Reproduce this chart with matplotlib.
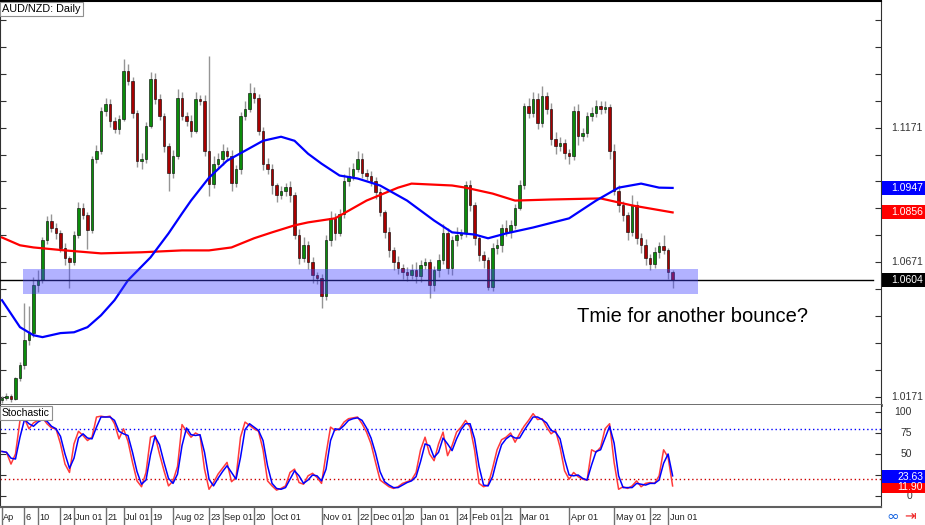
import matplotlib
matplotlib.use('Agg')
import matplotlib.pyplot as plt
import matplotlib.transforms as mtransforms
from matplotlib.patches import Rectangle
import numpy as np

# ---------------- data ----------------
first_open = 1.0160
closes = [
    1.0167, 1.0175, 1.0164, 1.0241, 1.0289, 1.0382, 1.0408, 1.0585, 1.0604, 1.0752,
    1.0826, 1.0797, 1.0778, 1.0723, 1.0686, 1.0671, 1.0771, 1.0871, 1.0845, 1.0789,
    1.1056, 1.1085, 1.1233, 1.1259, 1.1197, 1.1167, 1.1204, 1.1382, 1.1345, 1.1226,
    1.1048, 1.1056, 1.1178, 1.1352, 1.1278, 1.1215, 1.1104, 1.1004, 1.1067, 1.1282,
    1.1215, 1.1197, 1.1160, 1.1278, 1.1271, 1.1085, 1.0963, 1.1037, 1.1056, 1.1085,
    1.1067, 1.0967, 1.1019, 1.1215, 1.1241, 1.1300, 1.1282, 1.1160, 1.1037, 1.1019,
    1.0956, 1.0919, 1.0937, 1.0952, 1.0919, 1.0771, 1.0686, 1.0734, 1.0671, 1.0623,
    1.0612, 1.0545, 1.0752, 1.0837, 1.0778, 1.0852, 1.0974, 1.0993, 1.1019, 1.1056,
    1.1004, 1.0993, 1.0974, 1.0930, 1.0856, 1.0782, 1.0715, 1.0671, 1.0649, 1.0634,
    1.0623, 1.0641, 1.0619, 1.0660, 1.0671, 1.0585, 1.0641, 1.0678, 1.0778, 1.0649,
    1.0752, 1.0771, 1.0778, 1.0956, 1.0882, 1.0760, 1.0697, 1.0678, 1.0578, 1.0723,
    1.0734, 1.0797, 1.0782, 1.0808, 1.0874, 1.0956, 1.1252, 1.1226, 1.1278, 1.1189,
    1.1289, 1.1241, 1.1130, 1.1104, 1.1115, 1.1078, 1.1067, 1.1233, 1.1141, 1.1152,
    1.1215, 1.1226, 1.1252, 1.1241, 1.1248, 1.1085, 1.0937, 1.0882, 1.0845, 1.0782,
    1.0882, 1.0760, 1.0734, 1.0686, 1.0663, 1.0708, 1.0730, 1.0715, 1.0634, 1.0604]
upper_wick_pips = [
    8, 10, 6, 5, 12, 137, 100, 30, 40, 12,
    15, 25, 18, 12, 20, 10, 15, 25, 20, 12,
    10, 20, 15, 22, 18, 12, 15, 44, 25, 15,
    10, 20, 15, 25, 20, 18, 12, 10, 20, 33,
    22, 15, 20, 25, 15, 20, 352, 30, 20, 25,
    15, 20, 12, 15, 30, 37, 20, 15, 12, 20,
    15, 10, 18, 15, 20, 12, 25, 30, 15, 20,
    12, 15, 20, 25, 18, 15, 25, 30, 20, 29,
    20, 15, 18, 12, 15, 10, 20, 12, 25, 15,
    18, 25, 30, 20, 15, 12, 15, 22, 35, 20,
    15, 30, 18, 15, 20, 12, 10, 15, 12, 18,
    25, 15, 30, 20, 15, 20, 12, 30, 25, 20,
    37, 15, 20, 25, 20, 15, 12, 20, 25, 18,
    15, 20, 22, 18, 20, 12, 25, 20, 15, 12,
    37, 15, 20, 25, 15, 20, 15, 41, 10, 8]
lower_wick_pips = [
    10, 8, 12, 6, 10, 15, 20, 15, 25, 10,
    12, 15, 20, 15, 25, 97, 12, 10, 15, 70,
    10, 15, 12, 18, 25, 15, 20, 10, 15, 20,
    25, 30, 15, 10, 20, 15, 25, 67, 20, 12,
    15, 20, 25, 10, 15, 20, 45, 15, 20, 25,
    20, 30, 15, 20, 15, 12, 20, 15, 25, 20,
    30, 25, 15, 20, 25, 15, 20, 15, 25, 30,
    20, 45, 15, 20, 25, 10, 15, 20, 15, 12,
    20, 15, 20, 25, 15, 20, 25, 30, 20, 25,
    20, 15, 25, 20, 15, 48, 20, 25, 15, 20,
    25, 20, 15, 12, 20, 25, 20, 30, 10, 15,
    20, 25, 15, 20, 15, 10, 12, 20, 15, 25,
    15, 20, 25, 30, 20, 25, 30, 15, 35, 20,
    15, 20, 15, 20, 15, 29, 15, 25, 20, 30,
    15, 20, 30, 25, 20, 15, 20, 15, 25, 30]

ma_blue_bars = [0, 4, 7, 9, 13, 16, 19, 22, 25, 28, 33, 37, 40, 42, 46, 50, 54, 58, 62, 65,
                68, 71, 75, 79, 84, 90, 96, 100, 105, 108, 112, 118, 126, 132, 137, 142, 146, 149]
ma_blue_values = [1.0530, 1.0430, 1.0400, 1.0393, 1.0408, 1.0411, 1.0430, 1.0474, 1.0530, 1.0604,
                  1.0689, 1.0778, 1.0852, 1.0900, 1.0985, 1.1048, 1.1085, 1.1122, 1.1137, 1.1122,
                  1.1074, 1.1037, 1.0993, 1.0982, 1.0956, 1.0900, 1.0826, 1.0782, 1.0774, 1.0760,
                  1.0778, 1.0800, 1.0834, 1.0900, 1.0948, 1.0963, 1.0948, 1.0947]
ma_red_bars = [0, 4, 7, 14, 22, 31, 40, 46, 51, 56, 60, 65, 68, 74, 81, 88, 91, 100, 103, 109,
               114, 122, 133, 140, 149]
ma_red_values = [1.0763, 1.0734, 1.0726, 1.0715, 1.0704, 1.0708, 1.0715, 1.0715, 1.0726, 1.0760,
                 1.0782, 1.0808, 1.0819, 1.0834, 1.0900, 1.0948, 1.0963, 1.0956, 1.0948, 1.0926,
                 1.0900, 1.0904, 1.0908, 1.0882, 1.0856]

stoch_main = [
    53, 52, 38, 50, 90, 92, 80, 87, 90, 93,
    86, 81, 80, 62, 38, 28, 62, 77, 72, 66,
    70, 94, 95, 94, 95, 86, 68, 80, 65, 40,
    18, 11, 28, 70, 72, 50, 30, 12, 18, 35,
    85, 77, 70, 75, 72, 32, 8, 16, 26, 33,
    40, 17, 22, 70, 88, 84, 80, 77, 55, 18,
    12, 7, 9, 12, 28, 32, 16, 14, 24, 27,
    22, 15, 50, 82, 78, 80, 88, 92, 93, 94,
    86, 76, 62, 40, 19, 15, 11, 9, 11, 15,
    17, 19, 28, 55, 70, 50, 42, 62, 76, 48,
    60, 76, 82, 90, 82, 55, 15, 11, 13, 33,
    55, 67, 70, 75, 64, 74, 83, 90, 98, 91,
    92, 82, 74, 78, 58, 30, 20, 28, 23, 20,
    19, 55, 52, 58, 80, 86, 40, 8, 11, 9,
    12, 18, 11, 15, 16, 15, 24, 55, 46, 12]
stoch_signal = [
    53, 52, 45, 44, 70, 91, 86, 83, 88, 91,
    89, 83, 80, 71, 50, 33, 45, 69, 74, 69,
    68, 82, 94, 94, 94, 90, 77, 74, 72, 52,
    29, 14, 19, 49, 71, 61, 40, 21, 15, 26,
    60, 81, 73, 72, 73, 52, 20, 12, 21, 29,
    36, 28, 20, 46, 79, 86, 82, 78, 66, 36,
    15, 9, 8, 10, 20, 30, 24, 15, 19, 25,
    24, 18, 32, 66, 80, 79, 84, 90, 92, 93,
    90, 81, 69, 51, 29, 17, 13, 10, 10, 13,
    16, 18, 23, 41, 62, 60, 46, 52, 69, 62,
    54, 68, 79, 86, 86, 68, 35, 13, 12, 23,
    44, 61, 68, 72, 69, 69, 78, 86, 94, 94,
    91, 87, 78, 76, 68, 44, 25, 24, 25, 21,
    19, 37, 53, 55, 69, 83, 63, 24, 10, 10,
    10, 15, 14, 13, 15, 15, 19, 39, 50, 24]

date_tick_bars = [0, 5, 8, 13, 16, 23, 27, 33, 38, 46, 49, 56, 60, 71, 79, 82, 89, 93,
                  101, 104, 111, 115, 126, 136, 144, 148]
date_tick_labels = ['Ap', '6', '10', '24', 'Jun 01', '21', 'Jul 01', '19', 'Aug 02', '23',
                    'Sep 01', '20', 'Oct 01', 'Nov 01', '22', 'Dec 01', '20', 'Jan 01', '24',
                    'Feb 01', '21', 'Mar 01', 'Apr 01', 'May 01', '22', 'Jun 01']

price_labels = [1.1171, 1.0671, 1.0171]
ma_blue_last = 1.0947
ma_red_last = 1.0856
last_price = 1.0604
stoch_main_last = 11.90
stoch_signal_last = 23.63
stoch_levels = [80, 20]
stoch_ticks = [100, 75, 50, 25, 0]
stoch_tick_labels = ['100', '75', '50', '', '0']

zone_low, zone_high = 1.0552, 1.0645
zone_start_bar, zone_end_bar = 4.7, 154.7

# ---------------- figure ----------------
W, H = 925, 525
fig = plt.figure(figsize=(W / 100, H / 100), dpi=100)
fig.patch.set_facecolor('white')

def fx(px):
    return px / W

def fy(py):
    return 1 - py / H

AX_RIGHT = 881
ax = fig.add_axes([0, fy(405), fx(AX_RIGHT), (405 - 1) / H])
ax2 = fig.add_axes([0, fy(507), fx(AX_RIGHT), 102 / H])

XMIN, XMAX = -0.44, 195.3
ax.set_xlim(XMIN, XMAX)
ax.set_ylim(1.0141, 1.1641)
ax2.set_xlim(XMIN, XMAX)
ax2.set_ylim(-13.1, 108.3)

AXFONT = ['Liberation Sans', 'DejaVu Sans']
AXSIZE = 7.5

# candles
n = len(closes)
x = np.arange(n)
closes_a = np.array(closes)
opens_a = np.concatenate([[first_open], closes_a[:-1]])
highs_a = np.maximum(opens_a, closes_a) + np.array(upper_wick_pips) * 0.0001
lows_a = np.minimum(opens_a, closes_a) - np.array(lower_wick_pips) * 0.0001
ax.vlines(x, lows_a, highs_a, color='#959595', lw=1.0, zorder=2)
bottoms = np.minimum(opens_a, closes_a)
heights = np.maximum(np.abs(closes_a - opens_a), 0.0003)
cols = np.where(closes_a >= opens_a, '#0a8c0a', '#a80000')
ax.bar(x, heights, bottom=bottoms, width=0.5, color=cols, edgecolor='black',
       linewidth=0.4, zorder=3)

# moving averages
ax.plot(ma_red_bars, ma_red_values, color='#ff0000', lw=1.6, zorder=4)
ax.plot(ma_blue_bars, ma_blue_values, color='#0000ff', lw=1.6, zorder=4)

# price line & zone
ax.plot([XMIN, 193.5], [last_price, last_price], color='black', lw=1.0, zorder=4.5)
ax.add_patch(Rectangle((zone_start_bar, zone_low), zone_end_bar - zone_start_bar,
                       zone_high - zone_low, facecolor='#4040ff', alpha=0.4,
                       edgecolor='none', zorder=5))

# spines / ticks main
ax.spines['top'].set_color('black')
ax.spines['top'].set_linewidth(1.5)
ax.spines['right'].set_color('#303030')
ax.spines['left'].set_color('#303030')
ax.spines['bottom'].set_color('#606060')
ax.spines['bottom'].set_linewidth(2.0)
ax.set_xticks([])
ax.set_yticks(np.arange(1.0171, 1.1641, 0.01))
ax.set_yticklabels([])
ax.tick_params(axis='y', which='both', left=True, right=True, direction='in',
               length=4, color='#303030')
ax.set_facecolor('white')

blend_main = mtransforms.blended_transform_factory(fig.transFigure, ax.transData)
for p in price_labels:
    ax.text(fx(923), p, f'{p:.4f}', transform=blend_main, ha='right', va='center',
            fontsize=AXSIZE, color='#333333', family=AXFONT, clip_on=False)

def price_box(val, face):
    hgt = 14 / 2700
    ax.add_patch(Rectangle((fx(AX_RIGHT + 1), val - hgt / 2), fx(925 - AX_RIGHT), hgt,
                           transform=blend_main, facecolor=face, edgecolor='none',
                           clip_on=False, zorder=10))
    ax.text(fx(923), val, f'{val:.4f}', transform=blend_main, ha='right', va='center',
            fontsize=AXSIZE, color='white', family=AXFONT, clip_on=False, zorder=11)

price_box(ma_blue_last, '#0000ff')
price_box(ma_red_last, '#ff0000')
price_box(last_price, '#000000')

# stochastic
ax2.axhline(stoch_levels[0], color='#0000ff', lw=1.0, ls=(0, (1, 2)), zorder=2)
ax2.axhline(stoch_levels[1], color='#cc0000', lw=1.0, ls=(0, (1, 2)), zorder=2)
ax2.plot(x, stoch_main, color='#ff3a3a', lw=1.1, zorder=3)
ax2.plot(x, stoch_signal, color='#0000ff', lw=1.1, zorder=4)
ax2.spines['top'].set_visible(False)
ax2.spines['right'].set_color('#303030')
ax2.spines['left'].set_color('#303030')
ax2.spines['bottom'].set_color('#606060')
ax2.spines['bottom'].set_linewidth(1.5)
ax2.set_yticks(stoch_ticks)
ax2.set_yticklabels([])
ax2.tick_params(axis='y', left=True, right=True, direction='in', length=4, color='#303030')
ax2.set_xticks(date_tick_bars)
ax2.set_xticklabels([])
ax2.tick_params(axis='x', direction='out', length=13, color='#707070', width=1)

blend_st = mtransforms.blended_transform_factory(fig.transFigure, ax2.transData)
for t, lab in zip(stoch_ticks, stoch_tick_labels):
    if lab:
        ax2.text(fx(912), t, lab, transform=blend_st, ha='right', va='center',
                 fontsize=AXSIZE, color='#333333', family=AXFONT, clip_on=False)

def stoch_box(val, face, y_center_px, h_px):
    ax2.add_patch(Rectangle((fx(AX_RIGHT + 1), fy(y_center_px + h_px / 2)), fx(925 - AX_RIGHT),
                            h_px / H, transform=fig.transFigure, facecolor=face,
                            edgecolor='none', clip_on=False, zorder=10))
    ax2.text(fx(923), fy(y_center_px), f'{val:.2f}', transform=fig.transFigure,
             ha='right', va='center', fontsize=AXSIZE, color='white', family=AXFONT,
             clip_on=False, zorder=11)

stoch_box(stoch_main_last, '#ff0000', 487.5, 11)
stoch_box(stoch_signal_last, '#0000ff', 476.5, 13)

# date labels
blend_x = mtransforms.blended_transform_factory(ax2.transData, fig.transFigure)
off = mtransforms.offset_copy(blend_x, fig=fig, x=1.5, y=0, units='dots')
for b, lab in zip(date_tick_bars, date_tick_labels):
    ax2.text(b, fy(517), lab, transform=off, ha='left', va='center', fontsize=6.6,
             color='#222222', family=AXFONT, clip_on=False)

# titles / labels
fig.text(fx(2), fy(9), 'AUD/NZD: Daily', ha='left', va='center', fontsize=7.8,
         family=AXFONT, color='black',
         bbox=dict(facecolor='white', edgecolor='#909090', boxstyle='square,pad=0.2', lw=0.8))
fig.text(fx(2), fy(413), 'Stochastic', ha='left', va='center', fontsize=7.5,
         family=AXFONT, color='black',
         bbox=dict(facecolor='white', edgecolor='#909090', boxstyle='square,pad=0.2', lw=0.8))
fig.text(fx(577), fy(316), 'Tmie for another bounce?', ha='left', va='center',
         fontsize=14.5, family=['Liberation Sans', 'DejaVu Sans'], color='black')

# small toolbar glyphs bottom right
fig.text(fx(893), fy(516), '\u221e', ha='center', va='center', fontsize=11,
         color='#1060e0', family=['DejaVu Sans'])
fig.text(fx(910), fy(516), '\u21e5', ha='center', va='center', fontsize=10,
         color='#ee2020', family=['DejaVu Sans'])

fig.savefig('out.png', dpi=100, facecolor='white')
